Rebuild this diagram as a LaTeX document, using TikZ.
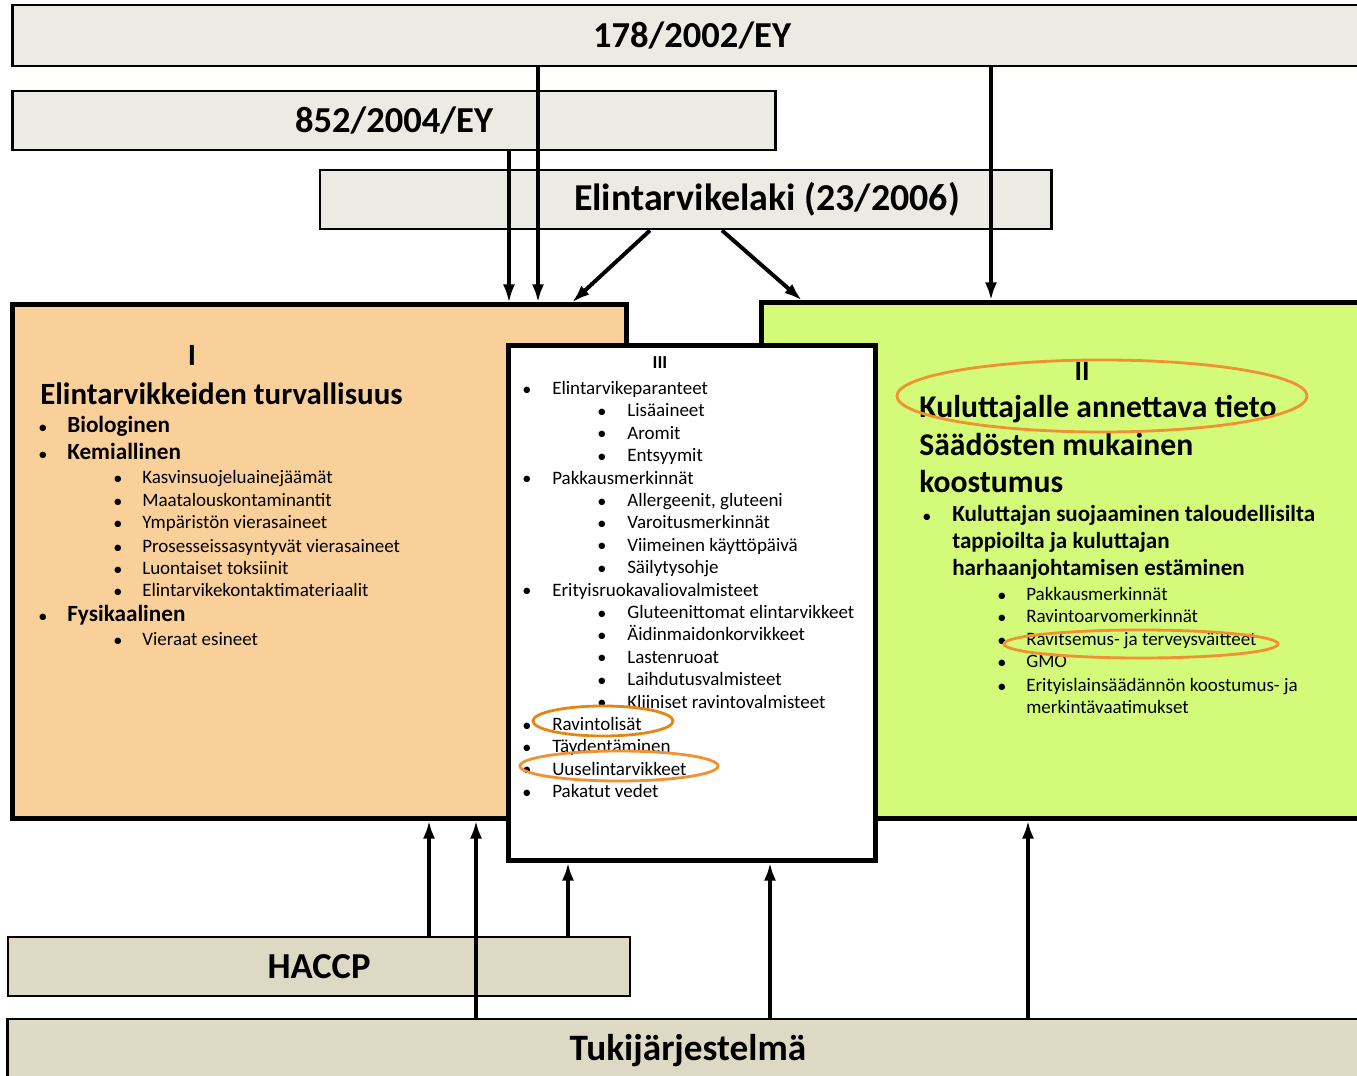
\documentclass[tikz,border=0pt]{standalone}
\usepackage{fontspec}
\setmainfont{Carlito}
\usetikzlibrary{arrows.meta}

\definecolor{lawfill}{RGB}{236,235,227}
\definecolor{basefill}{RGB}{221,217,196}
\definecolor{foodfill}{RGB}{250,208,154}
\definecolor{infofill}{RGB}{211,251,121}
\definecolor{ringorange}{RGB}{242,145,50}
\definecolor{ringdark}{RGB}{226,135,20}

\tikzset{
  lawbox/.style={draw, line width=2pt, fill=lawfill, inner sep=0pt,
    font=\fontsize{26}{30}\selectfont\bfseries},
  areabox/.style={draw, line width=3.5pt, inner sep=0pt},
  arr/.style={line width=2.8pt, -{Latex[length=4.5mm,width=3mm]}},
  itm/.style={anchor=west, inner sep=0pt, text height=0.7em, text depth=0.2em,
    yshift=-0.1cm, font=\fontsize{13.5}{16}\selectfont},
  bigitm/.style={itm, font=\fontsize{16.5}{20}\selectfont\bfseries},
  headitm/.style={itm, yshift=-0.15cm, font=\fontsize{22.5}{26}\selectfont\bfseries},
  dot/.style={inner sep=0pt, yshift=-0.1cm, font=\fontsize{13}{16}\selectfont},
  ring/.style={draw=ringorange, line width=2pt},
}

\begin{document}
\begin{tikzpicture}[x=0.025cm, y=-0.025cm]
  \clip (0,0) rectangle (1357,1076);
  \fill[white] (0,0) rectangle (1357,1076);

  % law boxes
  \node[lawbox, minimum width=33.95cm, minimum height=1.525cm] (ey178) at (692,35.5) {178/2002/EY};
  \node[lawbox, minimum width=19.05cm, minimum height=1.475cm] (ey852) at (394,120.5) {852/2004/EY};
  \node[lawbox, minimum width=18.275cm, minimum height=1.475cm] (laki) at (685.5,199.5) {};
  \node[font=\fontsize{27}{30}\selectfont\bfseries, inner sep=0pt] (lakitext) at (767,199) {Elintarvikelaki (23/2006)};

  % areas
  \node[areabox, fill=foodfill, minimum width=15.325cm, minimum height=12.825cm] (food) at (319.5,561.5) {};
  \node[areabox, fill=infofill, minimum width=16.5cm, minimum height=12.875cm] (info) at (1092,560.5) {};
  \node[areabox, fill=white, minimum width=9.15cm, minimum height=12.85cm] (misc) at (692,603) {};

  % support boxes
  \node[lawbox, fill=basefill, minimum width=15.55cm, minimum height=1.475cm] (haccp) at (319,966.5) {HACCP};
  \node[lawbox, fill=basefill, minimum width=34cm, minimum height=1.6cm,
    font=\fontsize{26.5}{30}\selectfont\bfseries] (tuki) at (688,1051) {Tukijärjestelmä};

  % I
  \node[font=\fontsize{22}{24}\selectfont\bfseries, inner sep=0pt] (foodnum) at (192,355) {I};
  \node[headitm, font=\fontsize{22}{26}\selectfont\bfseries] (foodtitle) at (40,391) {Elintarvikkeiden turvallisuus};
  \foreach \y/\t [count=\i] in {425/Biologinen, 452/Kemiallinen, 614/Fysikaalinen} {
    \node[dot] (fooddotA\i) at (43,\y) {\textbullet};
    \node[bigitm] (foodA\i) at (67,\y) {\t};
  }
  \foreach \y/\t [count=\i] in {476/Kasvinsuojeluainejäämät, 499/Maatalouskontaminantit,
      521/Ympäristön vierasaineet, 545/Prosesseissasyntyvät vierasaineet,
      567/Luontaiset toksiinit, 589/Elintarvikekontaktimateriaalit, 638/Vieraat esineet} {
    \node[dot] (fooddotB\i) at (118,\y) {\textbullet};
    \node[itm] (foodB\i) at (142,\y) {\t};
  }

  % III
  \node[font=\fontsize{13}{16}\selectfont\bfseries, inner sep=0pt] (miscnum) at (660,363) {III};
  \foreach \x/\t [count=\i from 0] in {552/Elintarvikeparanteet, 627/Lisäaineet, 627/Aromit,
      627/Entsyymit, 552/Pakkausmerkinnät, 627/{Allergeenit, gluteeni}, 627/Varoitusmerkinnät,
      627/Viimeinen käyttöpäivä, 627/Säilytysohje, 552/Erityisruokavaliovalmisteet,
      627/Gluteenittomat elintarvikkeet, 627/Äidinmaidonkorvikkeet, 627/Lastenruoat,
      627/Laihdutusvalmisteet, 627/Kliiniset ravintovalmisteet, 552/Ravintolisät,
      552/Täydentäminen, 552/Uuselintarvikkeet, 552/Pakatut vedet} {
    \node[dot] (miscdot\i) at (\x-25,387+22.4*\i) {\textbullet};
    \node[itm] (misc\i) at (\x,387+22.4*\i) {\t};
  }

  % II
  \node[font=\fontsize{20}{24}\selectfont\bfseries, inner sep=0pt] (infonum) at (1082,371) {II};
  \node[headitm] (infoA) at (919,404) {Kuluttajalle annettava tieto};
  \node[headitm] (infoB) at (919,442) {Säädösten mukainen};
  \node[headitm] (infoC) at (919,479) {koostumus};
  \node[dot] (infodot) at (927,514) {\textbullet};
  \foreach \y/\t [count=\i] in {514/Kuluttajan suojaaminen taloudellisilta,
      541/tappioilta ja kuluttajan, 568/harhaanjohtamisen estäminen} {
    \node[itm, font=\fontsize{16.4}{19}\selectfont\bfseries] (infoD\i) at (952,\y) {\t};
  }
  \foreach \y/\t [count=\i] in {593/Pakkausmerkinnät, 615/Ravintoarvomerkinnät,
      638/Ravitsemus- ja terveysväitteet, 660/GMO, 684/Erityislainsäädännön koostumus- ja} {
    \node[dot] (infodotE\i) at (1002,\y) {\textbullet};
    \node[itm] (infoE\i) at (1026,\y) {\t};
  }
  \node[itm] (infoE6) at (1026,706) {merkintävaatimukset};

  % highlights
  \draw[ring] (1102,396) ellipse (5.125cm and 0.9cm);
  \draw[ring] (1141,644) ellipse (3.425cm and 0.35cm);
  \draw[ring, draw=ringdark] (603,721) ellipse (1.75cm and 0.375cm);
  \draw[ring] (619,766) ellipse (2.475cm and 0.375cm);

  % arrows
  \draw[arr, line width=2.2pt] (509,0 |- ey852.south) -- (509,0 |- food.north);
  \draw[arr] (538,0 |- ey178.south) -- (538,0 |- food.north);
  \draw[arr] (650,0 |- laki.south) -- (572,0 |- food.north);
  \draw[arr] (722,0 |- laki.south) -- (802,0 |- info.north);
  \draw[arr] (991,0 |- ey178.south) -- (991,0 |- info.north);
  \draw[arr] (429,0 |- haccp.north) -- (429,0 |- food.south);
  \draw[arr] (476,0 |- tuki.north) -- (476,0 |- food.south);
  \draw[arr] (568,0 |- haccp.north) -- (568,0 |- misc.south);
  \draw[arr] (770,0 |- tuki.north) -- (770,0 |- misc.south);
  \draw[arr] (1028,0 |- tuki.north) -- (1028,0 |- info.south);
\end{tikzpicture}
\end{document}
